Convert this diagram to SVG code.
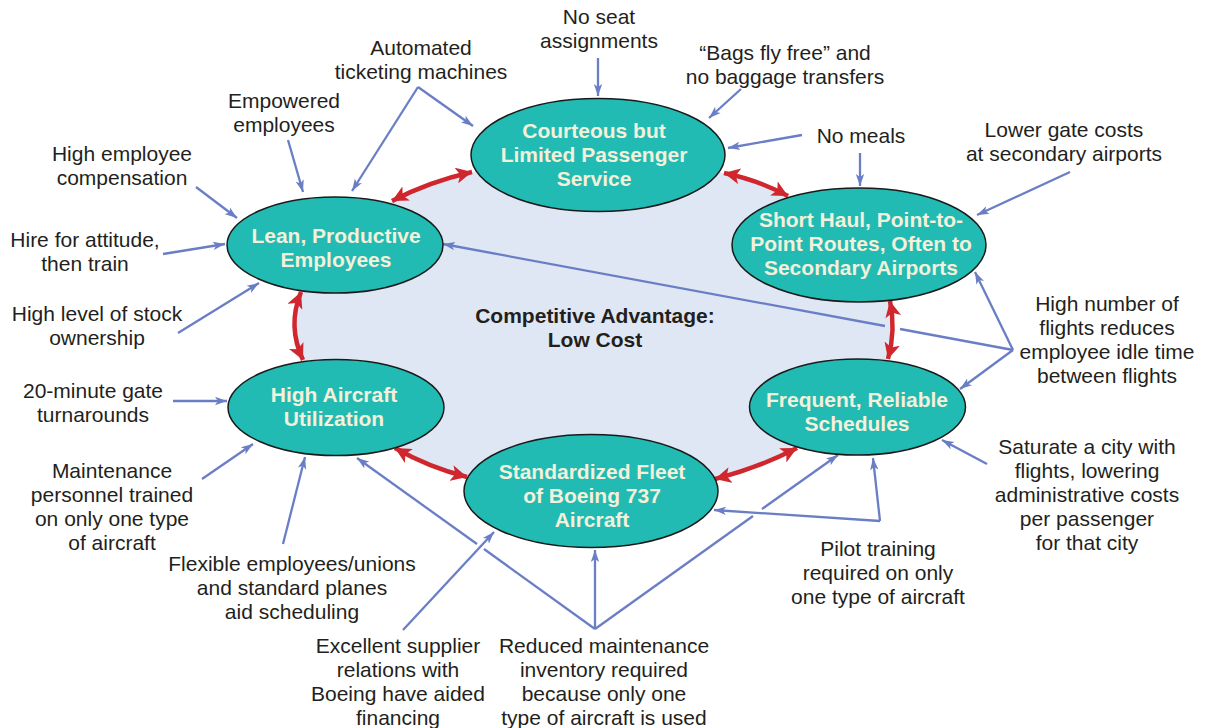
<svg xmlns="http://www.w3.org/2000/svg" width="1207" height="728" viewBox="0 0 1207 728">
<style>
.lbl{font-family:"Liberation Sans",Arial,sans-serif;font-size:21px;fill:#231F20;text-anchor:middle}
.nt{font-family:"Liberation Sans",Arial,sans-serif;font-size:21px;font-weight:bold;fill:#F4F0D9;text-anchor:middle}
.ct{font-family:"Liberation Sans",Arial,sans-serif;font-size:21px;font-weight:bold;fill:#231F20;text-anchor:middle}
.node{fill:#21BBB3;stroke:#1A1A1A;stroke-width:1.5}
.blue{fill:none;stroke:#6A7EC6;stroke-width:2.3}
.arr{marker-end:url(#ba)}
.red{fill:none;stroke:#D0262D;stroke-width:4.5;marker-start:url(#ra);marker-end:url(#ra)}
</style>
<defs>
<marker id="ba" markerUnits="userSpaceOnUse" markerWidth="14" markerHeight="10" refX="12" refY="5" orient="auto">
<path d="M0,0.8 L12,5 L0,9.2 L3,5 Z" fill="#6A7EC6"/>
</marker>
<marker id="ra" markerUnits="userSpaceOnUse" markerWidth="18" markerHeight="16" refX="16" refY="8" orient="auto-start-reverse">
<path d="M0,0 L16,8 L0,16 L4,8 Z" fill="#D0262D"/>
</marker>
</defs>
<rect width="1207" height="728" fill="#FFFFFF"/>
<path id="core" d="M335,245 L392,201 Q428,182 472,172 L598,155 L724,173 Q758,180 788,196 L858,245 L890,301 Q896,330 888,359 L858,407 L797,448 Q758,468 715,479 L591,491 L467,477 Q428,467 395,448 L336,407 L303,360 Q287,326 301,292 Z" fill="#E0E7F4"/>
<g id="connectors">
<path class="blue arr" d="M598,58 L598,96"/>
<path class="blue arr" d="M418,87 L473,126"/>
<path class="blue arr" d="M418,87 L352,191"/>
<path class="blue arr" d="M741,89 L709,118"/>
<path class="blue arr" d="M802,135 L728,148"/>
<path class="blue arr" d="M860,153 L860,186"/>
<path class="blue arr" d="M1070,172 L977,215"/>
<path class="blue arr" d="M288,140 L303,192"/>
<path class="blue arr" d="M196,187 L237,218"/>
<path class="blue arr" d="M163,254 L225,244"/>
<path class="blue arr" d="M178,333 L259,283"/>
<path class="blue arr" d="M1013,350 L975,272"/>
<path class="blue arr" d="M1013,350 L960,389"/>
<path class="blue" d="M1013,350 L900,329"/>
<path class="blue arr" d="M885,326 L443,244"/>
<path class="blue arr" d="M173,401 L227,401"/>
<path class="blue arr" d="M202,479 L253,444"/>
<path class="blue arr" d="M283,544 L305,457"/>
<path class="blue arr" d="M595,629 L595,550"/>
<path class="blue" d="M595,629 L484,549"/>
<path class="blue arr" d="M477,544 L357,458"/>
<path class="blue" d="M595,629 L753,516"/>
<path class="blue arr" d="M762,509 L838,455"/>
<path class="blue arr" d="M880,521 L714,510"/>
<path class="blue arr" d="M880,521 L873,458"/>
<path class="blue arr" d="M987,464 L942,440"/>
<path class="blue arr" d="M403,630 L494,532"/>
<path class="red" d="M392,201 Q428,182 472,172"/>
<path class="red" d="M724,173 Q758,180 788,196"/>
<path class="red" d="M890,301 Q896,330 888,359"/>
<path class="red" d="M301,292 Q287,326 303,360"/>
<path class="red" d="M395,448 Q428,467 467,477"/>
<path class="red" d="M715,479 Q758,468 797,448"/>
</g>
<g id="n-courteous">
<ellipse class="node" cx="598" cy="155" rx="127" ry="56.5"/>
<text class="nt" x="594" y="138">Courteous but</text>
<text class="nt" x="594" y="162">Limited Passenger</text>
<text class="nt" x="594" y="186">Service</text>
</g>
<g id="n-shorthaul">
<ellipse class="node" cx="859" cy="245" rx="127" ry="57"/>
<text class="nt" x="861" y="227">Short Haul, Point-to-</text>
<text class="nt" x="861" y="251">Point Routes, Often to</text>
<text class="nt" x="861" y="275">Secondary Airports</text>
</g>
<g id="n-frequent">
<ellipse class="node" cx="857.5" cy="407" rx="108" ry="48"/>
<text class="nt" x="857" y="407">Frequent, Reliable</text>
<text class="nt" x="857" y="431">Schedules</text>
</g>
<g id="n-fleet">
<ellipse class="node" cx="591" cy="491" rx="127" ry="56.5"/>
<text class="nt" x="592" y="479">Standardized Fleet</text>
<text class="nt" x="592" y="503">of Boeing 737</text>
<text class="nt" x="592" y="527">Aircraft</text>
</g>
<g id="n-utilization">
<ellipse class="node" cx="336" cy="407.5" rx="108" ry="48"/>
<text class="nt" x="334" y="402">High Aircraft</text>
<text class="nt" x="334" y="426">Utilization</text>
</g>
<g id="n-lean">
<ellipse class="node" cx="335" cy="245" rx="108" ry="48"/>
<text class="nt" x="336" y="243">Lean, Productive</text>
<text class="nt" x="336" y="267">Employees</text>
</g>
<g id="center">
<text class="ct" x="595" y="323">Competitive Advantage:</text>
<text class="ct" x="595" y="347">Low Cost</text>
</g>
<g id="labels">
<g id="l-noseat"><text class="lbl" x="599" y="24">No seat</text><text class="lbl" x="599" y="48">assignments</text></g>
<g id="l-automated"><text class="lbl" x="421" y="55">Automated</text><text class="lbl" x="421" y="79">ticketing machines</text></g>
<g id="l-bags"><text class="lbl" x="785" y="60">“Bags fly free” and</text><text class="lbl" x="785" y="84">no baggage transfers</text></g>
<g id="l-empowered"><text class="lbl" x="284" y="108">Empowered</text><text class="lbl" x="284" y="132">employees</text></g>
<g id="l-nomeals"><text class="lbl" x="861" y="143">No meals</text></g>
<g id="l-lowergate"><text class="lbl" x="1064" y="137">Lower gate costs</text><text class="lbl" x="1064" y="161">at secondary airports</text></g>
<g id="l-comp"><text class="lbl" x="122" y="161">High employee</text><text class="lbl" x="122" y="185">compensation</text></g>
<g id="l-hire"><text class="lbl" x="85" y="247">Hire for attitude,</text><text class="lbl" x="85" y="271">then train</text></g>
<g id="l-stock"><text class="lbl" x="97" y="321">High level of stock</text><text class="lbl" x="97" y="345">ownership</text></g>
<g id="l-flights"><text class="lbl" x="1107" y="311">High number of</text><text class="lbl" x="1107" y="335">flights reduces</text><text class="lbl" x="1107" y="359">employee idle time</text><text class="lbl" x="1107" y="383">between flights</text></g>
<g id="l-turn"><text class="lbl" x="93" y="398">20-minute gate</text><text class="lbl" x="93" y="422">turnarounds</text></g>
<g id="l-saturate"><text class="lbl" x="1087" y="454">Saturate a city with</text><text class="lbl" x="1087" y="478">flights, lowering</text><text class="lbl" x="1087" y="502">administrative costs</text><text class="lbl" x="1087" y="526">per passenger</text><text class="lbl" x="1087" y="550">for that city</text></g>
<g id="l-maint"><text class="lbl" x="112" y="478">Maintenance</text><text class="lbl" x="112" y="502">personnel trained</text><text class="lbl" x="112" y="526">on only one type</text><text class="lbl" x="112" y="550">of aircraft</text></g>
<g id="l-flex"><text class="lbl" x="292" y="571">Flexible employees/unions</text><text class="lbl" x="292" y="595">and standard planes</text><text class="lbl" x="292" y="619">aid scheduling</text></g>
<g id="l-pilot"><text class="lbl" x="878" y="556">Pilot training</text><text class="lbl" x="878" y="580">required on only</text><text class="lbl" x="878" y="604">one type of aircraft</text></g>
<g id="l-supplier"><text class="lbl" x="398" y="653">Excellent supplier</text><text class="lbl" x="398" y="677">relations with</text><text class="lbl" x="398" y="701">Boeing have aided</text><text class="lbl" x="398" y="725">financing</text></g>
<g id="l-reduced"><text class="lbl" x="604" y="653">Reduced maintenance</text><text class="lbl" x="604" y="677">inventory required</text><text class="lbl" x="604" y="701">because only one</text><text class="lbl" x="604" y="725">type of aircraft is used</text></g>
</g>
</svg>
